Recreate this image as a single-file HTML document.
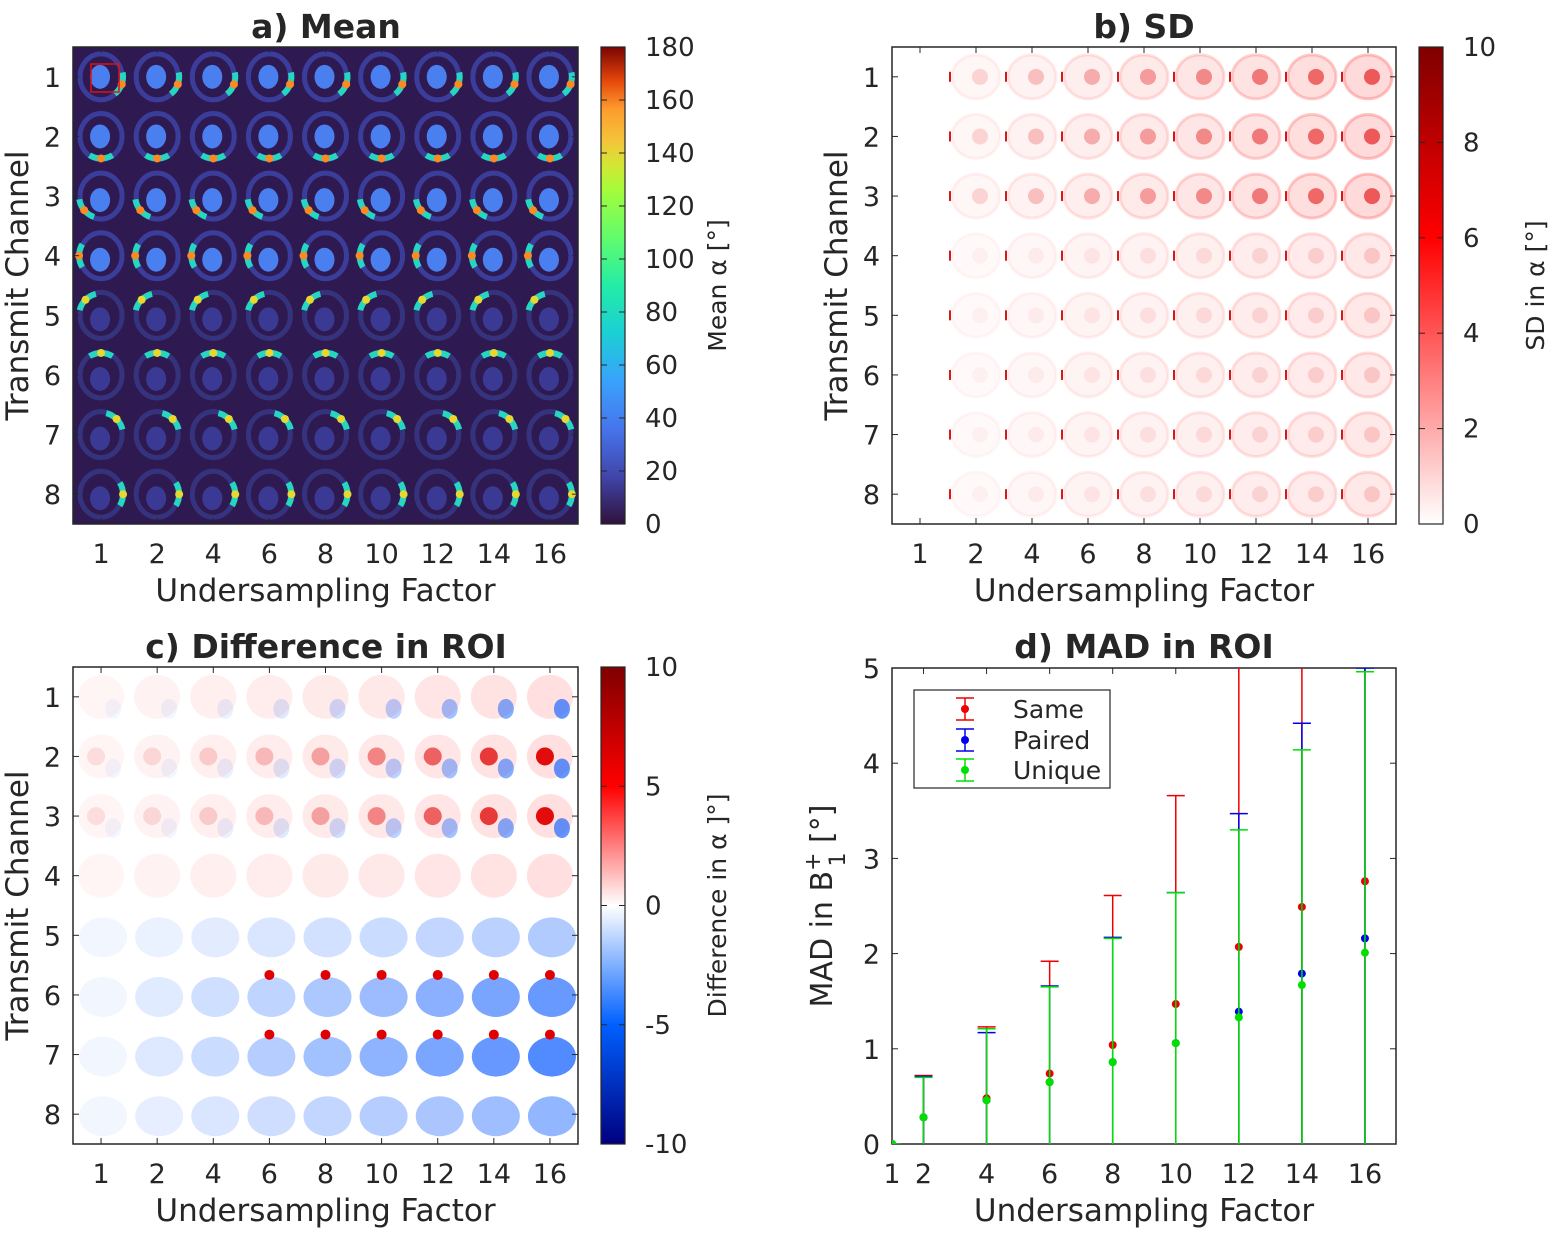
<!DOCTYPE html>
<html><head><meta charset="utf-8"><style>
body{margin:0;background:#fff;}
svg text{font-family:"DejaVu Sans","Liberation Sans",sans-serif;fill:#262626;}
</style></head><body>
<svg id="s" width="1558" height="1228" xmlns="http://www.w3.org/2000/svg">
<defs>
<linearGradient id="turbo" x1="0" y1="1" x2="0" y2="0">
<stop offset="0" stop-color="#30123b"/><stop offset="0.1" stop-color="#4145ab"/><stop offset="0.2" stop-color="#4675ed"/><stop offset="0.3" stop-color="#39a2fc"/><stop offset="0.4" stop-color="#1bcfd4"/><stop offset="0.5" stop-color="#24eca6"/><stop offset="0.6" stop-color="#61fc6c"/><stop offset="0.7" stop-color="#a4fc3b"/><stop offset="0.75" stop-color="#d1e834"/><stop offset="0.8" stop-color="#f3c63a"/><stop offset="0.87" stop-color="#fe9b2d"/><stop offset="0.93" stop-color="#e4460a"/><stop offset="1" stop-color="#7a0403"/>
</linearGradient>
<linearGradient id="reds" x1="0" y1="1" x2="0" y2="0">
<stop offset="0" stop-color="#ffffff"/><stop offset="0.6" stop-color="#ff0000"/><stop offset="1" stop-color="#7f0000"/>
</linearGradient>
<linearGradient id="div" x1="0" y1="1" x2="0" y2="0">
<stop offset="0" stop-color="#00007f"/><stop offset="0.25" stop-color="#0060ff"/><stop offset="0.5" stop-color="#ffffff"/><stop offset="0.75" stop-color="#ff0000"/><stop offset="1" stop-color="#7f0000"/>
</linearGradient>
<clipPath id="clipA"><rect x="73" y="47" width="505" height="477"/></clipPath>
<clipPath id="clipB"><rect x="892" y="47" width="504" height="477"/></clipPath>
<clipPath id="clipC"><rect x="73" y="667" width="505" height="477"/></clipPath>
<clipPath id="clipD"><rect x="892" y="668" width="504" height="476"/></clipPath>
</defs>
<g id="root"></g>
</svg>
<script>
// Panel d data
const xFactors=[1,2,4,6,8,10,12,14,16];
const sameMean=[0,0.28,0.48,0.74,1.04,1.47,2.07,2.49,2.76];
const sameErr=[0,0.44,0.75,1.18,1.57,2.19,3.2,3.2,3.2];
const pairedMean=[0,0.28,0.46,0.65,0.86,1.06,1.39,1.79,2.16];
const pairedErr=[0,0.43,0.71,1.01,1.31,1.58,2.08,2.63,2.84];
const uniqueMean=[0,0.28,0.46,0.65,0.86,1.06,1.33,1.67,2.01];
const uniqueErr=[0,0.42,0.75,1.0,1.3,1.58,1.97,2.47,2.95];
const yTicksD=[0,1,2,3,4,5];
const imgXLabels=["1","2","4","6","8","10","12","14","16"];
const imgYLabels=["1","2","3","4","5","6","7","8"];
const cbA=[0,20,40,60,80,100,120,140,160,180];
const cbB=[0,2,4,6,8,10];
const cbC=[-10,-5,0,5,10];

const NS="http://www.w3.org/2000/svg";
const root=document.getElementById('root');
function el(tag,attrs,parent,txt){const e=document.createElementNS(NS,tag);for(const k in attrs)e.setAttribute(k,attrs[k]);if(txt!==undefined)e.textContent=txt;(parent||root).appendChild(e);return e;}

function title(x,y,t,name){const e=el('text',{x:x,y:y,'text-anchor':'middle','font-size':33,'font-weight':'bold',fill:'#000'},root,t);

}
function axisFrame(x,y,w,h,name){const e=el('rect',{x:x,y:y,width:w,height:h,fill:'none',stroke:'#262626','stroke-width':1.5});

}

function imagePanel(x0,y0,w,h,clip,bg,tileFn,prefix){
  const g=el('g',{'clip-path':'url(#'+clip+')'});
  
  
  el('rect',{x:x0,y:y0,width:w,height:h,fill:bg},g);
  const dx=w/9, dy=h/8;
  for(let r=0;r<8;r++)for(let c=0;c<9;c++){
    const cx=x0+dx*(c+0.5), cy=y0+dy*(r+0.5);
    tileFn(g,cx,cy,r,c);
  }
  axisFrame(x0,y0,w,h,prefix+'-axes');
  for(let c=0;c<9;c++){const tx=x0+dx*(c+0.5);
    el('line',{x1:tx,y1:y0+h,x2:tx,y2:y0+h-6,stroke:'#262626'});el('line',{x1:tx,y1:y0,x2:tx,y2:y0+6,stroke:'#262626'});
    const t=el('text',{x:tx,y:y0+h+39,'text-anchor':'middle','font-size':27},root,imgXLabels[c]);
    
    }
  for(let r=0;r<8;r++){const ty=y0+dy*(r+0.5);
    el('line',{x1:x0,y1:ty,x2:x0+6,y2:ty,stroke:'#262626'});el('line',{x1:x0+w,y1:ty,x2:x0+w-6,y2:ty,stroke:'#262626'});
    const t=el('text',{x:x0-12,y:ty+10,'text-anchor':'end','font-size':27},root,imgYLabels[r]);
    
    }
  const xl=el('text',{x:x0+w/2,y:y0+h+77,'text-anchor':'middle','font-size':31},root,'Undersampling Factor');
  
  
  const yl=el('text',{x:0,y:0,'text-anchor':'middle','font-size':31,transform:'translate('+(x0-45)+','+(y0+h/2)+') rotate(-90)'},root,'Transmit Channel');
  
  
}
function colorbar(x,y,h,grad,ticks,mn,mx,label,prefix){
  const r=el('rect',{x:x,y:y,width:24,height:h,fill:'url(#'+grad+')',stroke:'#262626','stroke-width':1.2});
  
  
  ticks.forEach(v=>{const ty=y+h-(v-mn)/(mx-mn)*h;
    el('line',{x1:x+24,y1:ty,x2:x+18,y2:ty,stroke:'#262626'});el('line',{x1:x,y1:ty,x2:x+6,y2:ty,stroke:'#262626'});
    const t=el('text',{x:x+44,y:ty+9,'font-size':26},root,String(v));
    
    });
  const l=el('text',{x:0,y:0,'text-anchor':'middle','font-size':25,transform:'translate('+(x+125)+','+(y+h/2)+') rotate(-90)'},root,label);
  
  
}

// Panel a
title(326,38,'a) Mean','title-a');
const hotAng=[20,90,140,180,225,270,315,0];
imagePanel(73,47,505,477,'clipA','#2e1a50',(g,cx,cy,r,c)=>{
  const ring=r<4?'#3b3d9a':'#35337e';
  el('ellipse',{cx:cx,cy:cy,rx:21,ry:23,fill:'none',stroke:ring,'stroke-width':5},g);
  const blob=r<4?'#4a7ff0':'#3a3a95';
  el('ellipse',{cx:cx-1,cy:cy+(r<2?0:4),rx:10,ry:12,fill:blob},g);
  const a=hotAng[r]*Math.PI/180, a1=a-0.55,a2=a+0.55;
  const p=(t)=>[cx+22*Math.cos(t),cy+22*Math.sin(t)];
  const [x1,y1]=p(a1),[x2,y2]=p(a2),[xm,ym]=p(a);
  el('path',{d:`M${x1},${y1} A22,22 0 0 1 ${x2},${y2}`,fill:'none',stroke:'#26d6c0','stroke-width':6},g);
  el('circle',{cx:xm,cy:ym,r:4,fill:r<4?'#fb8a22':'#e6d830'},g);
},'panel-a');
el('rect',{x:91,y:64,width:28,height:28,fill:'none',stroke:'#e01010','stroke-width':1.5});
colorbar(601,47,477,'turbo',cbA,0,180,'Mean α [°]','panel-a');

// Panel b
title(1144,38,'b) SD','title-b');
imagePanel(892,47,504,477,'clipB','#ffffff',(g,cx,cy,r,c)=>{
  if(c===0)return;
  const inten=Math.min(0.9,(0.06+c*0.05)*(r<3?1.3:0.8));
  el('ellipse',{cx:cx,cy:cy,rx:24,ry:22,fill:'#ff3030','fill-opacity':inten*0.3},g);
  el('ellipse',{cx:cx,cy:cy,rx:24,ry:22,fill:'none',stroke:'#ff4040','stroke-opacity':inten*0.5,'stroke-width':3},g);
  el('ellipse',{cx:cx+4,cy:cy,rx:8,ry:8,fill:'#e00000','fill-opacity':r<3?inten:inten*0.4},g);
  el('rect',{x:cx-27,y:cy-5,width:2,height:10,fill:'#d00000','fill-opacity':0.9},g);
},'panel-b');
colorbar(1419,47,477,'reds',cbB,0,10,'SD in α [°]','panel-b');

// Panel c
title(326,658,'c) Difference in ROI','title-c');
const rowBlue=[0,0,0,0,0.3,0.65,0.75,0.45];
imagePanel(73,667,505,477,'clipC','#ffffff',(g,cx,cy,r,c)=>{
  const s=c/8;
  if(r<4){
    el('ellipse',{cx:cx,cy:cy,rx:23,ry:22,fill:'#ff5050','fill-opacity':0.06+0.12*s},g);
    if(r===1||r===2) el('ellipse',{cx:cx-5,cy:cy,rx:9,ry:9,fill:'#e00000','fill-opacity':0.1+0.85*s*s},g);
    if(r<=2) el('ellipse',{cx:cx+12,cy:cy+12,rx:8,ry:10,fill:'#1060ff','fill-opacity':0.05+0.6*s*s},g);
  } else {
    el('ellipse',{cx:cx+2,cy:cy+2,rx:24,ry:20,fill:'#2a70ff','fill-opacity':0.06+rowBlue[r]*s},g);
    if((r===5||r===6)&&c>=3) el('circle',{cx:cx,cy:cy-20,r:5,fill:'#e00000'},g);
  }
},'panel-c');
colorbar(601,667,477,'div',cbC,-10,10,'Difference in α ]°]','panel-c');

// Panel d
title(1144,658,'d) MAD in ROI','title-d');
const dx0=892,dy0=668,dw=504,dh=476;
const xs=v=>892+(v-1)*31.53;
const ys=v=>1144-v*95.2;
axisFrame(dx0,dy0,dw,dh,'panel-d-axes');
xFactors.forEach(v=>{const tx=xs(v);
  el('line',{x1:tx,y1:1144,x2:tx,y2:1138,stroke:'#262626'});el('line',{x1:tx,y1:668,x2:tx,y2:674,stroke:'#262626'});
  const t=el('text',{x:tx,y:1183,'text-anchor':'middle','font-size':27},root,String(v));
  
  });
yTicksD.forEach(v=>{const ty=ys(v);
  el('line',{x1:892,y1:ty,x2:898,y2:ty,stroke:'#262626'});el('line',{x1:1396,y1:ty,x2:1390,y2:ty,stroke:'#262626'});
  const t=el('text',{x:880,y:ty+10,'text-anchor':'end','font-size':27},root,String(v));
  
  });
const xl=el('text',{x:1144,y:1221,'text-anchor':'middle','font-size':31},root,'Undersampling Factor');


const yl=el('text',{x:0,y:0,'text-anchor':'middle','font-size':30,transform:'translate(832,906) rotate(-90)'},root);


yl.innerHTML='MAD in B<tspan baseline-shift="super" font-size="22">+</tspan><tspan dx="-14" baseline-shift="sub" font-size="22">1</tspan> [°]';
const gd=el('g',{'clip-path':'url(#clipD)'});
function series(means,errs,color,name){
  means.forEach((m,i)=>{const x=xs(xFactors[i]);
    const lo=Math.max(0,m-errs[i]),hi=m+errs[i];
    el('line',{x1:x,y1:ys(lo),x2:x,y2:ys(hi),stroke:color,'stroke-width':1.5},gd);
    el('line',{x1:x-9,y1:ys(hi),x2:x+9,y2:ys(hi),stroke:color,'stroke-width':1.5},gd);
    if(m-errs[i]>0) el('line',{x1:x-9,y1:ys(lo),x2:x+9,y2:ys(lo),stroke:color,'stroke-width':1.5},gd);
    const p=el('circle',{cx:x,cy:ys(m),r:4,fill:color},gd);
    
    
  });
}
series(sameMean,sameErr,'#ee0000','same');
series(pairedMean,pairedErr,'#0000ee','paired');
series(uniqueMean,uniqueErr,'#00e000','unique');
const lg=el('g',{});


el('rect',{x:914,y:690,width:196,height:98,fill:'#fff',stroke:'#262626','stroke-width':1.2},lg);
[['Same','#ee0000',709],['Paired','#0000ee',740],['Unique','#00e000',770]].forEach(([t,c,y])=>{
  const e=el('g',{},lg);
  
  
  el('line',{x1:965,y1:y-11,x2:965,y2:y+11,stroke:c,'stroke-width':1.5},e);
  el('line',{x1:956,y1:y-11,x2:974,y2:y-11,stroke:c,'stroke-width':1.5},e);
  el('line',{x1:956,y1:y+11,x2:974,y2:y+11,stroke:c,'stroke-width':1.5},e);
  el('circle',{cx:965,cy:y,r:4,fill:c},e);
  el('text',{x:1013,y:y+9,'font-size':25},e,t);
});
</script>
</body></html>
